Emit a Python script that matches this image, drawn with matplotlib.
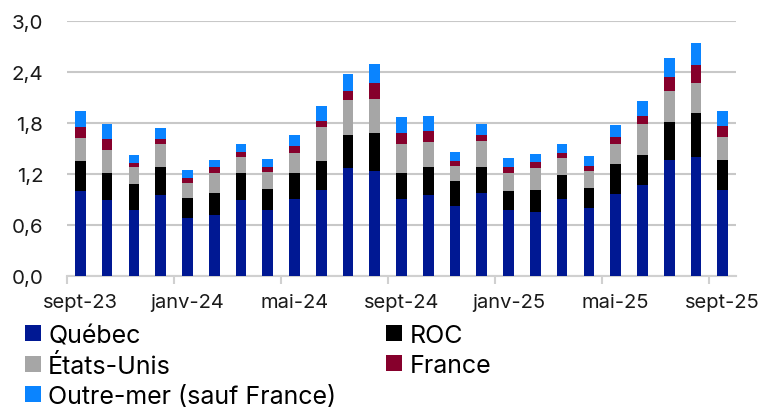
import matplotlib.pyplot as plt
import numpy as np

plt.rcParams['font.family'] = ['Inter', 'DejaVu Sans']

months = ['sept-23', 'oct-23', 'nov-23', 'déc-23', 'janv-24', 'févr-24', 'mars-24', 'avr-24',
          'mai-24', 'juin-24', 'juil-24', 'août-24', 'sept-24', 'oct-24', 'nov-24', 'déc-24',
          'janv-25', 'févr-25', 'mars-25', 'avr-25', 'mai-25', 'juin-25', 'juil-25', 'août-25',
          'sept-25']

quebec = [1.00, 0.90, 0.78, 0.96, 0.69, 0.72, 0.90, 0.78, 0.91, 1.01, 1.27, 1.24, 0.91,
          0.96, 0.83, 0.98, 0.78, 0.75, 0.91, 0.80, 0.97, 1.07, 1.37, 1.40, 1.01]
roc = [0.35, 0.31, 0.31, 0.33, 0.23, 0.26, 0.31, 0.25, 0.31, 0.35, 0.39, 0.44, 0.31,
       0.32, 0.29, 0.30, 0.22, 0.26, 0.28, 0.24, 0.35, 0.36, 0.44, 0.52, 0.36]
etats_unis = [0.28, 0.28, 0.19, 0.26, 0.18, 0.24, 0.19, 0.20, 0.23, 0.39, 0.41, 0.40, 0.33,
              0.30, 0.18, 0.31, 0.22, 0.26, 0.20, 0.20, 0.24, 0.36, 0.37, 0.35, 0.27]
france = [0.12, 0.12, 0.055, 0.07, 0.05, 0.06, 0.06, 0.05, 0.08, 0.08, 0.11, 0.19, 0.13,
          0.13, 0.06, 0.07, 0.06, 0.07, 0.06, 0.06, 0.08, 0.09, 0.16, 0.22, 0.13]
outre_mer = [0.19, 0.18, 0.095, 0.12, 0.10, 0.09, 0.09, 0.10, 0.13, 0.17, 0.20, 0.23, 0.19,
             0.17, 0.10, 0.13, 0.11, 0.10, 0.10, 0.11, 0.14, 0.18, 0.23, 0.25, 0.18]

series = [
    ('Québec', quebec, '#001893'),
    ('ROC', roc, '#000000'),
    ('États-Unis', etats_unis, '#A6A6A6'),
    ('France', france, '#86002C'),
    ('Outre-mer (sauf France)', outre_mer, '#0A84FF'),
]

fig = plt.figure(figsize=(7.62, 4.10), dpi=100)
ax = fig.add_axes([0.0879, 0.324, 0.8781, 0.6216])

x = np.arange(len(months))
bottom = np.zeros(len(months))
bars = {}
for name, vals, color in series:
    vals = np.array(vals)
    bars[name] = ax.bar(x, vals, width=0.4, bottom=bottom, color=color, label=name, zorder=3)
    bottom += vals

ax.set_xlim(-0.5, len(months) - 0.5)
ax.set_ylim(0, 3.0)
yt = np.arange(0, 3.01, 0.6)
ax.set_yticks(yt)
ax.set_yticklabels([f'{v:.1f}'.replace('.', ',') for v in yt])
ax.yaxis.grid(True, color='#C8C8C8', linewidth=1.5, zorder=0)
ax.set_axisbelow(True)

ax.set_xticks(x[::4])
ax.set_xticklabels(months[::4])
ax.set_xticks(np.arange(-0.5, len(months), 4), minor=True)
ax.tick_params(axis='x', which='major', length=0, pad=12, labelsize=14.5, colors='#1a1a1a')
ax.tick_params(axis='x', which='minor', length=6, width=1.5, color='#D0D0D0')
ax.tick_params(axis='y', length=0, pad=17, labelsize=14.8, colors='#1a1a1a')

for s in ['top', 'right', 'left']:
    ax.spines[s].set_visible(False)
ax.spines['bottom'].set_color('#D0D0D0')
ax.spines['bottom'].set_linewidth(1.5)

# legend filled row by row: Québec, ROC / États-Unis, France / Outre-mer
order = ['Québec', 'États-Unis', 'Outre-mer (sauf France)', 'ROC', 'France']
fig.legend([bars[n] for n in order], order, loc='upper left', bbox_to_anchor=(0.033, 0.207),
           ncol=2, frameon=False, fontsize=18, handlelength=0.62, handleheight=0.62,
           handletextpad=0.3, columnspacing=2.0, labelspacing=0.28, borderaxespad=0,
           borderpad=0)

fig.savefig('out.png', dpi=100)
